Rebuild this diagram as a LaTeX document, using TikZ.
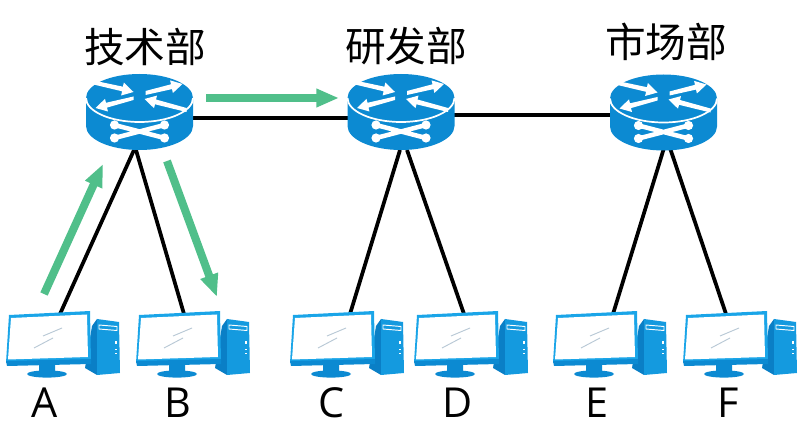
\documentclass[tikz,border=0pt]{standalone}
\usepackage{fontspec}
\usetikzlibrary{arrows.meta}
\newfontfamily\cjk{Noto Sans CJK SC}
\setmainfont{Open Sans}
\definecolor{netblue}{HTML}{0C8AD2}
\definecolor{netdark}{HTML}{0A7FC6}
\definecolor{screenblue}{HTML}{1AA5E8}
\definecolor{flowgreen}{HTML}{50BF8A}
\definecolor{glare}{HTML}{B9C9D6}
\tikzset{
  x=0.75pt,y=-0.75pt,
  anchorbox/.style={inner sep=0pt,outer sep=0pt},
  link/.style={draw=black,line width=2.8pt},
  flow/.style={draw=flowgreen,line width=6pt,-{Triangle[length=17pt,width=13pt]}},
  deptlabel/.style={font=\cjk\fontsize{30.5}{32}\selectfont,inner sep=0pt},
  pclabel/.style={font=\fontsize{31}{33}\selectfont,inner sep=0pt},
  router/.pic={
    \fill[netblue] (-53.5,0) -- (-53.5,28) arc[start angle=180,end angle=0,x radius=53.5,y radius=24] -- (53.5,0) -- cycle;
    \fill[netblue] (0,0) ellipse[x radius=53.5,y radius=24];
    \draw[white,line width=1.3pt] (-53.5,0) arc[start angle=180,end angle=0,x radius=53.5,y radius=24];
    \fill[white] (-46,-17.5) -- (-16.6,-11.3) -- (-15.6,-15.5) -- (-6,-6) -- (-18.4,-2.5) -- (-17.4,-6.7) -- (-46,-13.5) -- cycle;
    \fill[white] (-6,-1.5) -- (-33.5,4.8) -- (-34.5,0.9) -- (-44,10) -- (-31.5,13.5) -- (-32.5,9.6) -- (-6,2) -- cycle;
    \fill[white] (6,-7) -- (31.5,-13.7) -- (30.6,-17.6) -- (43,-14) -- (33.4,-5) -- (32.5,-8.9) -- (6,-3) -- cycle;
    \fill[white] (47,14) -- (15.5,6.3) -- (14.5,10.2) -- (5,1) -- (17.5,-2.4) -- (16.5,1.5) -- (47,10) -- cycle;
    \draw[white,line width=3.4pt] (-25,27) -- (25,40) (-25,40) -- (25,27);
    \foreach \px/\py in {-25/27,-25/40,25/27,25/40}{
      \fill[white] (\px,\py) circle[radius=4.6];
    }
  },
  computer/.pic={
    \fill[netdark] (85,368) -- (92,326) -- (97,319) -- (97,375) -- cycle;
    \fill[screenblue!60!netblue] (97,319) -- (119,322) -- (120,373) -- (97,375) -- cycle;
    \draw[white,line width=0.7pt] (99,325) -- (117,326.5) -- (117,330.5) -- (99,329) -- cycle;
    \fill[white] (115,341) rectangle (117,344);
    \fill[white] (115,349) rectangle (117,350.5);
    \fill[white] (115,353) rectangle (117,354.5);
    \fill[netblue] (39,364) -- (55,363) -- (55,372) -- (39,372) -- cycle;
    \fill[netblue] (47,374) ellipse[x radius=20,y radius=3.6];
    \fill[screenblue] (9,315) -- (90,311) -- (91,361) -- (6,363) -- cycle;
    \fill[netblue] (6,361) -- (91,359) -- (91,364) -- (7,366) -- cycle;
    \fill[white] (11,318) -- (87,314.5) -- (88,357) -- (8,359.5) -- cycle;
    \draw[glare,line width=0.7pt] (43,336) -- (62,328) (34,348) -- (53,338);
  }
}
\begin{document}
\begin{tikzpicture}
\useasboundingbox (0,0) rectangle (800,441);
% routers
\node[anchorbox,minimum width=80.25pt,minimum height=57pt] (r1) at (139.5,112) {};
\node[anchorbox,minimum width=80.25pt,minimum height=57pt] (r2) at (401,112) {};
\node[anchorbox,minimum width=80.25pt,minimum height=57pt] (r3) at (663.5,112) {};
% computers
\node[anchorbox,minimum width=86pt,minimum height=49pt] (pcA) at (63,344) {};
\node[anchorbox,minimum width=86pt,minimum height=49pt] (pcB) at (193,344) {};
\node[anchorbox,minimum width=86pt,minimum height=49pt] (pcC) at (347,344) {};
\node[anchorbox,minimum width=86pt,minimum height=49pt] (pcD) at (471,344) {};
\node[anchorbox,minimum width=86pt,minimum height=49pt] (pcE) at (610,344) {};
\node[anchorbox,minimum width=86pt,minimum height=49pt] (pcF) at (740,344) {};
% connector end points
\coordinate (r1a) at (134,150);
\coordinate (r1b) at (136,150);
\coordinate (r2a) at (400,150);
\coordinate (r2b) at (407,150);
\coordinate (r3a) at (664,148);
\coordinate (r3b) at (670,148);
\coordinate (topA) at (60,314);
\coordinate (topB) at (184,314);
\coordinate (topC) at (350,314);
\coordinate (topD) at (464,314);
\coordinate (topE) at (613,314);
\coordinate (topF) at (726,314);
\coordinate (l12a) at (185,118);
\coordinate (l12b) at (355,118);
\coordinate (l23a) at (445,115);
\coordinate (l23b) at (618,115);
\draw[link] (l12a) -- (l12b);
\draw[link] (l23a) -- (l23b);
\draw[link] (r1a) -- (topA);
\draw[link] (r1b) -- (topB);
\draw[link] (r2a) -- (topC);
\draw[link] (r2b) -- (topD);
\draw[link] (r3a) -- (topE);
\draw[link] (r3b) -- (topF);
% icons
\pic at (139.5,98) {router};
\pic at (401,98) {router};
\pic at (663.5,98.5) {router};
\pic at (0,0) {computer};
\pic at (130,0) {computer};
\pic at (284,0) {computer};
\pic at (408,0) {computer};
\pic at (547,0) {computer};
\pic at (677,0) {computer};
% green flows
\coordinate (fa1) at (44,294);
\coordinate (fa2) at (103,164);
\coordinate (fb1) at (167,161);
\coordinate (fb2) at (217,297);
\coordinate (fc1) at (206,98);
\coordinate (fc2) at (339,98);
\draw[flow] (fa1) -- (fa2);
\draw[flow] (fb1) -- (fb2);
\draw[flow] (fc1) -- (fc2);
% labels
\node[deptlabel] (t1) at (145,47) {技术部};
\node[deptlabel] (t2) at (406,46) {研发部};
\node[deptlabel] (t3) at (666,42) {市场部};
\node[pclabel] (la) at (45,403) {A};
\node[pclabel] (lb) at (178,403) {B};
\node[pclabel] (lc) at (332,403) {C};
\node[pclabel] (ld) at (458,403) {D};
\node[pclabel] (le) at (597,403) {E};
\node[pclabel] (lf) at (728,403) {F};
\end{tikzpicture}
\end{document}
